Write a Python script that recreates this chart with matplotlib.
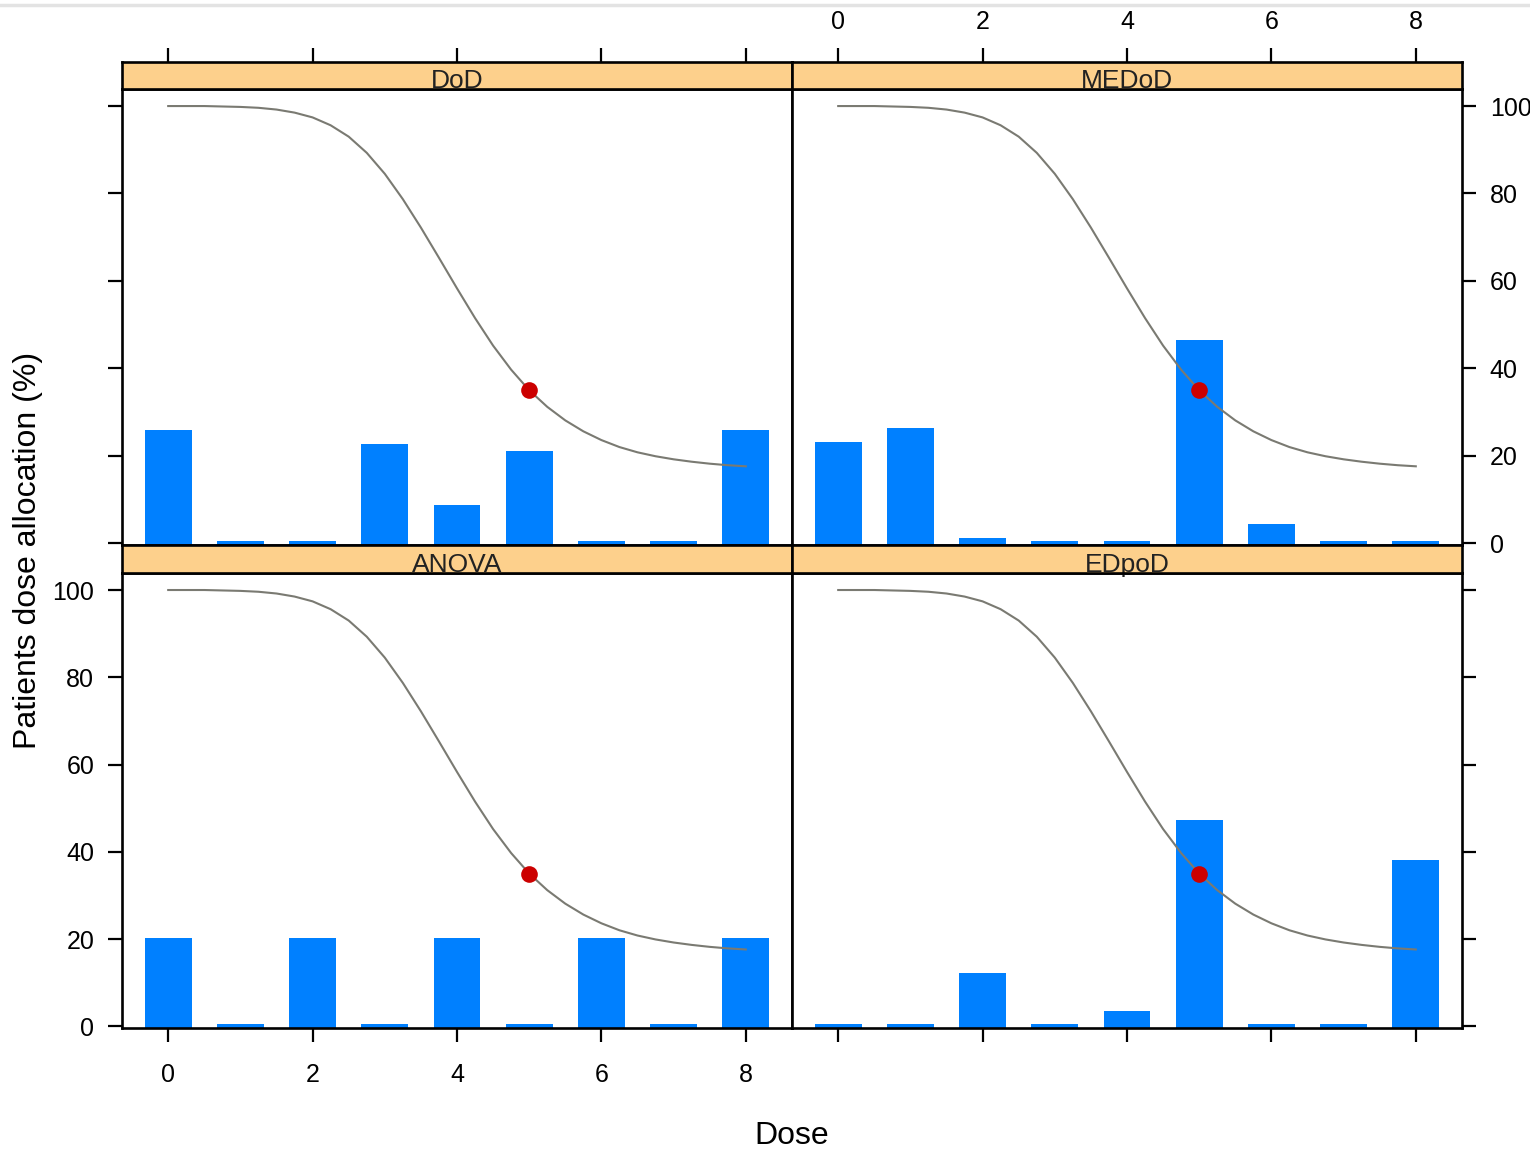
import matplotlib.pyplot as plt
import numpy as np
from matplotlib.lines import Line2D

plt.rcParams['font.family'] = ['Liberation Sans', 'DejaVu Sans']

# data
doses = [0, 1, 2, 3, 4, 5, 6, 7, 8]
dod = [25.8, 0.5, 0.5, 22.7, 8.8, 21.1, 0.5, 0.5, 25.8]
medod = [23.2, 26.4, 1.2, 0.5, 0.5, 46.5, 4.5, 0.5, 0.5]
anova = [20.2, 0.5, 20.2, 0.5, 20.2, 0.5, 20.2, 0.5, 20.2]
edpod = [0.5, 0.5, 12.3, 0.5, 3.4, 47.2, 0.5, 0.5, 38.2]

# dose-response curve (same in every panel), read at 0.25 steps
curve_x = [0, 0.25, 0.5, 0.75, 1, 1.25, 1.5, 1.75, 2, 2.25, 2.5, 2.75, 3, 3.25,
           3.5, 3.75, 4, 4.25, 4.5, 4.75, 5, 5.25, 5.5, 5.75, 6, 6.25, 6.5,
           6.75, 7, 7.25, 7.5, 7.75, 8]
curve_y = [100, 100, 100, 99.9, 99.8, 99.6, 99.2, 98.5, 97.4, 95.6, 93.0, 89.3,
           84.5, 78.7, 72.2, 65.3, 58.3, 51.5, 45.2, 39.7, 35.0, 31.2, 28.1,
           25.6, 23.6, 22.0, 20.8, 19.9, 19.2, 18.65, 18.2, 17.85, 17.6]
target_dose = 5
target_resp = 35

W, H = 1530, 1151
fig = plt.figure(figsize=(W / 100, H / 100), dpi=100)

XL = (-0.64, 8.64)
YL = (-0.4, 103.9)
SPW = 1.9
TICKLEN = 10
FS_TICK = 18

def fx(px):
    return px / W

def fy(top, bottom):
    return (H - bottom) / H, (bottom - top) / H

panels = [
    # name, values, col, row
    ('DoD', dod, 0, 0),
    ('MEDoD', medod, 1, 0),
    ('ANOVA', anova, 0, 1),
    ('EDpoD', edpod, 1, 1),
]
col_x = [122, 792]
row_panel = [(89, 545), (573, 1028)]
row_strip = [(62, 89), (545, 573)]
pw = 670

for name, vals, c, r in panels:
    b, h = fy(*row_panel[r])
    ax = fig.add_axes([fx(col_x[c]), b, fx(pw), h])
    sb, sh = fy(*row_strip[r])
    sax = fig.add_axes([fx(col_x[c]), sb, fx(pw), sh])

    ax.bar(doses, np.array(vals) - YL[0], bottom=YL[0], width=0.65,
           color='#0080FF', edgecolor='none', zorder=2)
    ax.plot(curve_x, curve_y, color='#7A7A72', lw=1.5, zorder=3)
    ax.plot([target_dose], [target_resp], 'o', color='#CC0000', ms=12,
            mec='none', zorder=4)
    ax.set_xlim(XL)
    ax.set_ylim(YL)
    for s in ax.spines.values():
        s.set_linewidth(SPW)

    # strip
    sax.set_facecolor('#FDD08C')
    sax.set_xlim(XL)
    sax.set_ylim(0, 1)
    for s in sax.spines.values():
        s.set_linewidth(SPW)
    sax.text(4, 0.02, name, ha='center', va='baseline', fontsize=19,
             color='#222222', zorder=1)
    sax.set_yticks([])

    ax.tick_params(direction='out', length=TICKLEN, width=1.6,
                   labelsize=FS_TICK, colors='black')
    ax.set_xticks([0, 2, 4, 6, 8])
    ax.set_yticks([0, 20, 40, 60, 80, 100])

    if r == 0:
        ax.tick_params(bottom=False, labelbottom=False)
        sax.tick_params(direction='out', length=TICKLEN, width=1.6,
                        labelsize=FS_TICK, top=True, bottom=False,
                        labelbottom=False, labeltop=(c == 1), pad=10)
        sax.set_xticks([0, 2, 4, 6, 8])
    else:
        ax.tick_params(bottom=True, labelbottom=(c == 0), pad=15, axis='x')
        sax.set_xticks([])

    if c == 0:
        ax.tick_params(axis='y', left=True, right=False,
                       labelleft=(r == 1), labelright=False, pad=10)
    else:
        ax.tick_params(axis='y', left=False, right=True,
                       labelleft=False, labelright=(r == 0), pad=10)

fig.text(28 / W, 1 - 550 / H, 'Patients dose allocation (%)', rotation=90,
         ha='center', va='center', fontsize=23)
fig.text(792 / W, 1 - 1136 / H, 'Dose', ha='center', va='center', fontsize=23)

# light grey line at the very top (screenshot edge)
fig.add_artist(Line2D([0, 1], [1 - 5 / H, 1 - 5 / H], color='#E3E3E3', lw=2.5,
                      transform=fig.transFigure))

fig.savefig('out.png', dpi=100)
